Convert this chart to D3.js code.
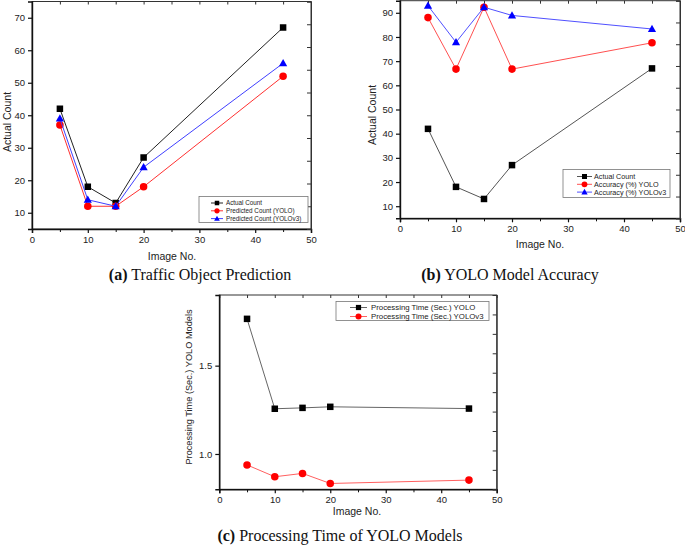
<!DOCTYPE html>
<html>
<head>
<meta charset="utf-8">
<script src="https://cdn.jsdelivr.net/npm/d3@7"></script>
<style>
  html, body { margin: 0; padding: 0; background: #fff; }
  svg { display: block; }
  .tick text { font-family: "Liberation Sans", Arial, sans-serif; fill: #222; }
</style>
</head>
<body>
<svg id="chart" width="685" height="546"></svg>
<script>
// ---------- data ----------
const imageNo      = [5, 10, 15, 20, 45];
const actualCount  = [42, 18, 13, 27, 67];
const predYOLO     = [37, 12, 12, 18, 52];
const predYOLOv3   = [39, 14, 12, 24, 56];
const accYOLO      = [88.0, 66.7, 92.3, 66.7, 77.6];
const accYOLOv3    = [92.9, 77.8, 92.3, 88.9, 83.3];
const timeYOLO     = [1.765, 1.256, 1.261, 1.267, 1.257];
const timeYOLOv3   = [0.938, 0.871, 0.890, 0.833, 0.852];
const xTicks       = [0, 10, 20, 30, 40, 50];
const xMinorTicks  = [5, 15, 25, 35, 45];
const yTicksA      = [10, 20, 30, 40, 50, 60, 70];
const yTicksB      = [10, 20, 30, 40, 50, 60, 70, 80, 90];
const yTicksC      = [1.0, 1.5];
const legendA      = ["Actual Count", "Predicted Count (YOLO)", "Predicted Count (YOLOv3)"];
const legendB      = ["Actual Count", "Accuracy (%) YOLO", "Accuracy (%) YOLOv3"];
const legendC      = ["Processing Time (Sec.) YOLO", "Processing Time (Sec.) YOLOv3"];

const svg = d3.select("#chart");
const SANS = '"Liberation Sans", Arial, sans-serif';
const SERIF = '"Liberation Serif", "Times New Roman", serif';

function drawPanel(p) {
  const g = svg.append("g");
  const x = d3.scaleLinear().domain([0, 50]).range([p.left, p.right]);
  const y = d3.scaleLinear().domain(p.yDomain).range([p.bottom, p.top]);
  const yR = d3.scaleLinear().domain([0, 10]).range([p.bottom, p.top]);

  // frame
  g.append("rect").attr("x", p.left).attr("y", p.top)
    .attr("width", p.right - p.left).attr("height", p.bottom - p.top)
    .attr("fill", "none").attr("stroke", "#333").attr("stroke-width", 1);

  // bottom axis
  const bx = g.append("g").attr("transform", `translate(0,${p.bottom})`)
    .call(d3.axisBottom(x).tickValues(xTicks).tickSize(4).tickPadding(3).tickFormat(d3.format("d")));
  bx.select(".domain").attr("stroke", "#111").attr("stroke-width", 1.4);
  bx.selectAll(".tick line").attr("stroke", "#111").attr("stroke-width", 1.2);
  bx.selectAll(".tick text").attr("font-size", p.tickFont);
  const bxm = g.append("g").attr("transform", `translate(0,${p.bottom})`)
    .call(d3.axisBottom(x).tickValues(xMinorTicks).tickSize(3).tickFormat(""));
  bxm.select(".domain").remove();
  bxm.selectAll(".tick line").attr("stroke", "#111");

  // top axis (inward ticks)
  const tx = g.append("g").attr("transform", `translate(0,${p.top})`)
    .call(d3.axisBottom(x).tickValues(xTicks.concat(xMinorTicks)).tickSize(3).tickFormat(""));
  tx.select(".domain").remove();
  tx.selectAll(".tick line").attr("stroke", "#333");

  // left axis
  const ly = g.append("g").attr("transform", `translate(${p.left},0)`)
    .call(d3.axisLeft(y).tickValues(p.yTicks).tickSize(4).tickPadding(3).tickFormat(p.yFormat));
  ly.select(".domain").attr("stroke", "#111").attr("stroke-width", 1.4);
  ly.selectAll(".tick line").attr("stroke", "#111").attr("stroke-width", 1.2);
  ly.selectAll(".tick text").attr("font-size", p.tickFont);

  // right axis (inward ticks, 10 divisions)
  const ry = g.append("g").attr("transform", `translate(${p.right},0)`)
    .call(d3.axisLeft(yR).ticks(10).tickSize(4).tickFormat(""));
  ry.select(".domain").attr("stroke", "#333");
  ry.selectAll(".tick line").attr("stroke", "#333");

  // axis titles
  g.append("text").attr("transform", `translate(${p.yTitleX},${p.yTitleY}) rotate(-90)`)
    .attr("text-anchor", "middle").attr("font-family", SANS).attr("font-size", p.yTitleFont)
    .attr("fill", "#222").text(p.yTitle);
  g.append("text").attr("x", p.xTitleX).attr("y", p.xTitleY)
    .attr("text-anchor", "middle").attr("font-family", SANS).attr("font-size", 10.5)
    .attr("fill", "#222").text("Image No.");

  // series
  const line = d3.line().x((d, i) => x(imageNo[i])).y(d => y(d));
  p.series.forEach(s => {
    g.append("path").datum(s.values).attr("d", line)
      .attr("fill", "none").attr("stroke", s.lineColor).attr("stroke-width", 1);
    s.values.forEach((v, i) => drawMarker(g, s.marker, x(imageNo[i]), y(v), s.color, p.markerSize));
  });

  // legend
  const L = p.legend;
  g.append("rect").attr("x", L.x).attr("y", L.y).attr("width", L.w).attr("height", L.h)
    .attr("fill", "#fff").attr("stroke", "#777").attr("stroke-width", 0.8);
  p.series.forEach((s, i) => {
    const yy = L.y + L.first + i * L.step;
    g.append("line").attr("x1", L.lx1).attr("x2", L.lx2).attr("y1", yy).attr("y2", yy)
      .attr("stroke", s.lineColor).attr("stroke-width", 1);
    drawMarker(g, s.marker, (L.lx1 + L.lx2) / 2, yy, s.color, L.ms);
    g.append("text").attr("x", L.tx).attr("y", yy).attr("dy", "0.35em")
      .attr("font-family", SANS).attr("font-size", L.font).attr("fill", "#222").text(L.labels[i]);
  });
}

function drawMarker(g, type, cx, cy, color, size) {
  if (type === "square") {
    g.append("rect").attr("x", cx - size / 2).attr("y", cy - size / 2)
      .attr("width", size).attr("height", size).attr("fill", color);
  } else if (type === "circle") {
    g.append("circle").attr("cx", cx).attr("cy", cy).attr("r", size * 0.58).attr("fill", color);
  } else {
    const h = size * 1.05;
    g.append("path").attr("d", `M${cx},${cy - h * 0.62}L${cx + h * 0.6},${cy + h * 0.45}L${cx - h * 0.6},${cy + h * 0.45}Z`)
      .attr("fill", color);
  }
}

// ---------- panel (a) ----------
drawPanel({
  left: 32, right: 311, top: 1.5, bottom: 229, yDomain: [5, 75], yTicks: yTicksA,
  yFormat: d3.format("d"), tickFont: 9.5, markerSize: 6.5,
  yTitle: "Actual Count", yTitleX: 11, yTitleY: 122, yTitleFont: 10.5,
  xTitleX: 172, xTitleY: 260,
  series: [
    { values: actualCount, marker: "square", color: "#000", lineColor: "#222" },
    { values: predYOLO, marker: "circle", color: "#ff0000", lineColor: "#ff3030" },
    { values: predYOLOv3, marker: "triangle", color: "#0000ff", lineColor: "#4040ff" }
  ],
  legend: { x: 199, y: 196.5, w: 109, h: 26, first: 6.5, step: 7.8, lx1: 211, lx2: 223, tx: 226, ms: 4.5, font: 6.3, labels: legendA }
});

// ---------- panel (b) ----------
drawPanel({
  left: 400, right: 680, top: 0.7, bottom: 218.3, yDomain: [5, 95], yTicks: yTicksB,
  yFormat: d3.format("d"), tickFont: 9.5, markerSize: 6.5,
  yTitle: "Actual Count", yTitleX: 376, yTitleY: 115, yTitleFont: 10.5,
  xTitleX: 540, xTitleY: 248,
  series: [
    { values: actualCount, marker: "square", color: "#000", lineColor: "#555" },
    { values: accYOLO, marker: "circle", color: "#ff0000", lineColor: "#ff5050" },
    { values: accYOLOv3, marker: "triangle", color: "#0000ff", lineColor: "#5050ff" }
  ],
  legend: { x: 563, y: 169.5, w: 107, h: 28, first: 7, step: 7.8, lx1: 577, lx2: 592, tx: 594, ms: 5, font: 7.2, labels: legendB }
});

// ---------- panel (c) ----------
drawPanel({
  left: 219.3, right: 496.7, top: 295, bottom: 489.3, yDomain: [0.8, 1.9], yTicks: yTicksC,
  yFormat: d3.format(".1f"), tickFont: 9.5, markerSize: 6.5,
  yTitle: "Processing Time (Sec.) YOLO Models", yTitleX: 192, yTitleY: 387, yTitleFont: 9.2,
  xTitleX: 357, xTitleY: 515,
  series: [
    { values: timeYOLO, marker: "square", color: "#000", lineColor: "#666" },
    { values: timeYOLOv3, marker: "circle", color: "#ff0000", lineColor: "#ff6060" }
  ],
  legend: { x: 336, y: 301.5, w: 153, h: 19, first: 6, step: 9, lx1: 350, lx2: 367, tx: 371, ms: 5.2, font: 7.8, labels: legendC }
});

// ---------- captions ----------
function caption(cx, cy, bold, rest) {
  const t = svg.append("text").attr("x", cx).attr("y", cy).attr("text-anchor", "middle")
    .attr("font-family", SERIF).attr("font-size", 16).attr("fill", "#111");
  t.append("tspan").attr("font-weight", "bold").text(bold);
  t.append("tspan").text(" " + rest);
}
caption(200, 280, "(a)", "Traffic Object Prediction");
caption(510, 280, "(b)", "YOLO Model Accuracy");
caption(340, 541, "(c)", "Processing Time of YOLO Models");
</script>
</body>
</html>
